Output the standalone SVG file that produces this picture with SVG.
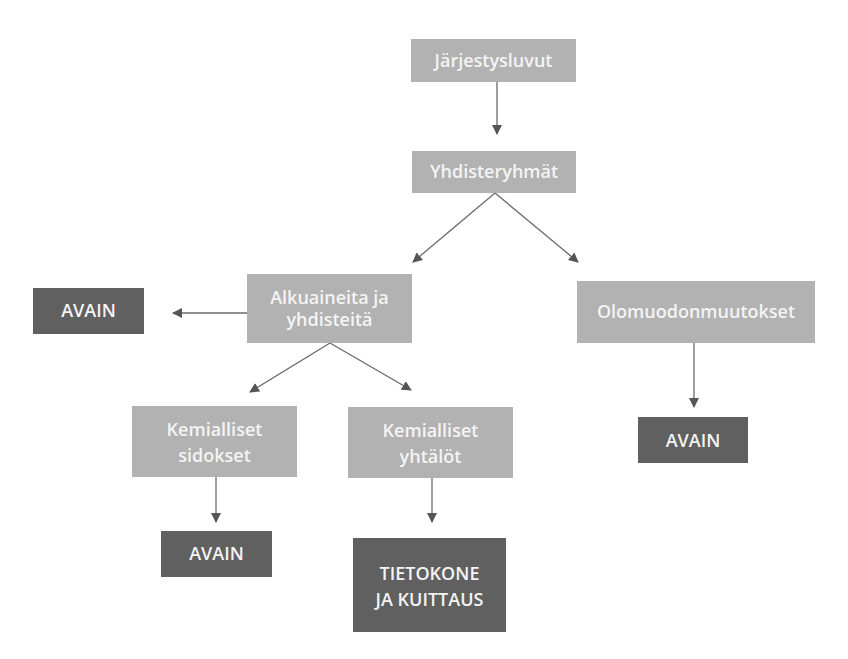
<svg xmlns="http://www.w3.org/2000/svg" width="848" height="659" viewBox="0 0 848 659">
<style>
.l{fill:#b2b2b2}
.d{fill:#606060}
text{font-family:"Open Sans","Liberation Sans",sans-serif;font-weight:600;font-size:18px;fill:#f4f4f4;text-anchor:middle}
.c line{stroke:#6a6a6a;stroke-width:1.3;fill:none}
</style>
<defs>
<marker id="a" markerWidth="10" markerHeight="10" refX="9" refY="5" orient="auto" markerUnits="userSpaceOnUse" viewBox="0 0 10 10">
<path d="M0,0 L10,5 L0,10 z" fill="#555"/>
</marker>
</defs>
<rect width="848" height="659" fill="#fff"/>
<g class="c">
<line x1="497" y1="82" x2="497" y2="134" marker-end="url(#a)"/>
<line x1="495" y1="193" x2="413" y2="262" marker-end="url(#a)"/>
<line x1="495" y1="193" x2="578" y2="262" marker-end="url(#a)"/>
<line x1="247" y1="313" x2="173" y2="313" marker-end="url(#a)"/>
<line x1="330" y1="343" x2="250" y2="392" marker-end="url(#a)"/>
<line x1="330" y1="343" x2="411" y2="390" marker-end="url(#a)"/>
<line x1="694" y1="343" x2="694" y2="407" marker-end="url(#a)"/>
<line x1="216" y1="477" x2="216" y2="522" marker-end="url(#a)"/>
<line x1="432" y1="478" x2="432" y2="522" marker-end="url(#a)"/>
</g>
<g id="jarjestysluvut"><rect class="l" x="411" y="39" width="165" height="43"/><text x="493.5" y="67">Järjestysluvut</text></g>
<g id="yhdisteryhmat"><rect class="l" x="412" y="151" width="164" height="42"/><text x="494" y="178">Yhdisteryhmät</text></g>
<g id="alkuaineita"><rect class="l" x="247" y="274" width="165" height="69"/><text x="329.5" y="304">Alkuaineita ja</text><text x="329.5" y="326">yhdisteitä</text></g>
<g id="avain1"><rect class="d" x="33" y="288" width="111" height="46"/><text x="88.5" y="317">AVAIN</text></g>
<g id="olomuodonmuutokset"><rect class="l" x="577" y="281" width="238" height="62"/><text x="696" y="318">Olomuodonmuutokset</text></g>
<g id="avain2"><rect class="d" x="638" y="417" width="110" height="46"/><text x="693" y="447">AVAIN</text></g>
<g id="sidokset"><rect class="l" x="132" y="406" width="165" height="71"/><text x="214.5" y="436">Kemialliset</text><text x="214.5" y="462">sidokset</text></g>
<g id="yhtalot"><rect class="l" x="348" y="407" width="165" height="71"/><text x="430.5" y="437">Kemialliset</text><text x="430.5" y="463">yhtälöt</text></g>
<g id="avain3"><rect class="d" x="161" y="531" width="111" height="46"/><text x="216.5" y="560">AVAIN</text></g>
<g id="tietokone"><rect class="d" x="353" y="538" width="153" height="94"/><text x="429.5" y="580">TIETOKONE</text><text x="429.5" y="606">JA KUITTAUS</text></g>
</svg>
